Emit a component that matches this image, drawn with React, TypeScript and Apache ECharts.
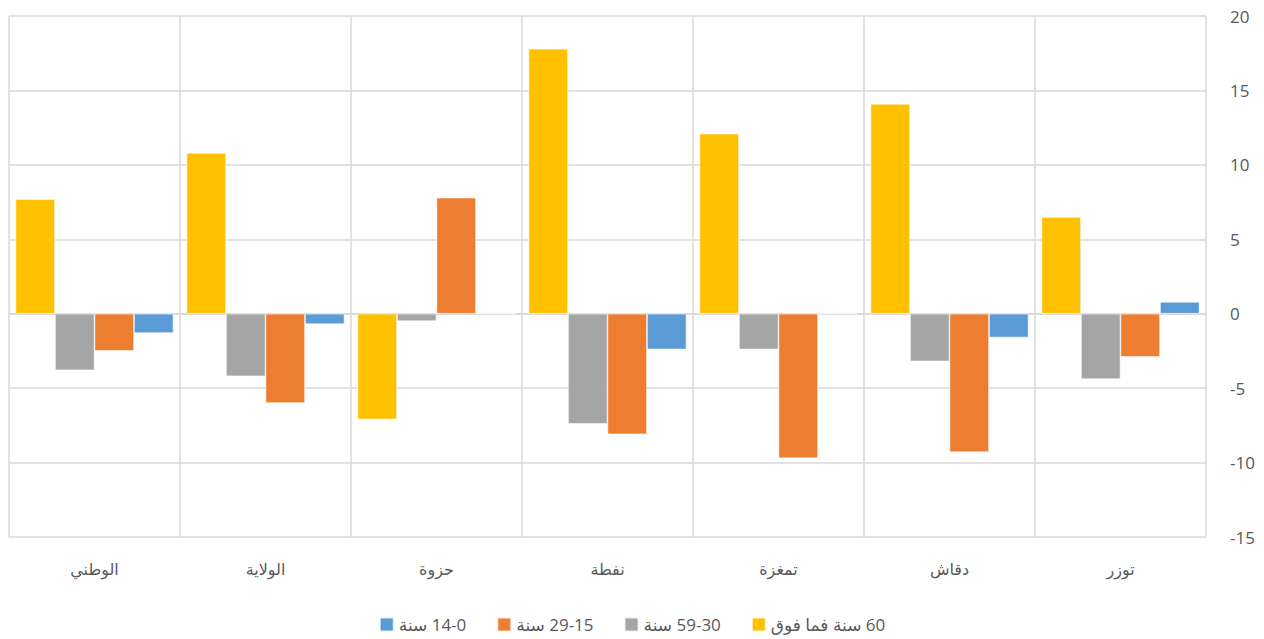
import React, { useEffect, useRef } from "react";
import * as echarts from "echarts";

const categories = ["توزر", "دقاش", "تمغزة", "نفطة", "حزوة", "الولاية", "الوطني"];
const seriesNames = ["60 سنة فما فوق", "59-30 سنة", "29-15 سنة", "14-0 سنة"];
const legendOrder = ["14-0 سنة", "29-15 سنة", "59-30 سنة", "60 سنة فما فوق"];
const age60plus = [6.5, 14.1, 12.1, 17.8, -7.1, 10.8, 7.7];
const age30to59 = [-4.4, -3.2, -2.4, -7.4, -0.5, -4.2, -3.8];
const age15to29 = [-2.9, -9.3, -9.7, -8.1, 7.8, -6.0, -2.5];
const age0to14 = [0.8, -1.6, 0, -2.4, 0, -0.7, -1.3];
const colors = ["#FFC000", "#A5A5A5", "#ED7D31", "#5B9BD5"];

const FONT = "'Open Sans', 'DejaVu Sans', sans-serif";
const TEXT = "#595959";
const GRID = "#d9d9d9";

export default function App() {
  const ref = useRef<HTMLDivElement>(null);
  useEffect(() => {
    if (!ref.current) return;
    const chart = echarts.init(ref.current, undefined, { renderer: "svg" });
    const values = [age60plus, age30to59, age15to29, age0to14];
    chart.setOption({
      animation: false,
      textStyle: { fontFamily: FONT },
      grid: { left: 9, right: 58, top: 16, bottom: 102, containLabel: false },
      legend: {
        data: legendOrder,
        left: "center",
        top: 611,
        itemWidth: 14,
        itemHeight: 14,
        itemGap: 30,
        icon: "rect",
        formatter: (name: string) => "\u2067" + name + "\u2069",
        textStyle: { color: TEXT, fontSize: 17, fontFamily: FONT },
      },
      xAxis: {
        type: "category",
        data: categories,
        inverse: true,
        axisLine: { show: true, lineStyle: { color: GRID, width: 1.5 } },
        axisTick: { show: false },
        splitLine: { show: true, interval: 0, lineStyle: { color: GRID, width: 1.5 } },
        axisLabel: { color: TEXT, fontSize: 16, margin: 24, interval: 0, fontFamily: FONT },
      },
      yAxis: {
        type: "value",
        position: "right",
        min: -15,
        max: 20,
        interval: 5,
        axisLine: { show: false },
        axisTick: { show: false },
        splitLine: { show: true, lineStyle: { color: GRID, width: 1.5 } },
        axisLabel: { color: TEXT, fontSize: 17, margin: 24, padding: [0, 0, 9, 0], fontFamily: FONT },
      },
      series: seriesNames.map((name, i) => ({
        name,
        type: "bar",
        data: values[i],
        barGap: "0%",
        barCategoryGap: "7.6%",
        itemStyle: { color: colors[i], borderColor: "rgba(255,255,255,0.8)", borderWidth: 0.7 },
      })),
    });
    return () => chart.dispose();
  }, []);
  return (
    <div
      ref={ref}
      style={{ position: "fixed", left: 0, top: 0, width: 1264, height: 639, background: "#fff" }}
    />
  );
}
